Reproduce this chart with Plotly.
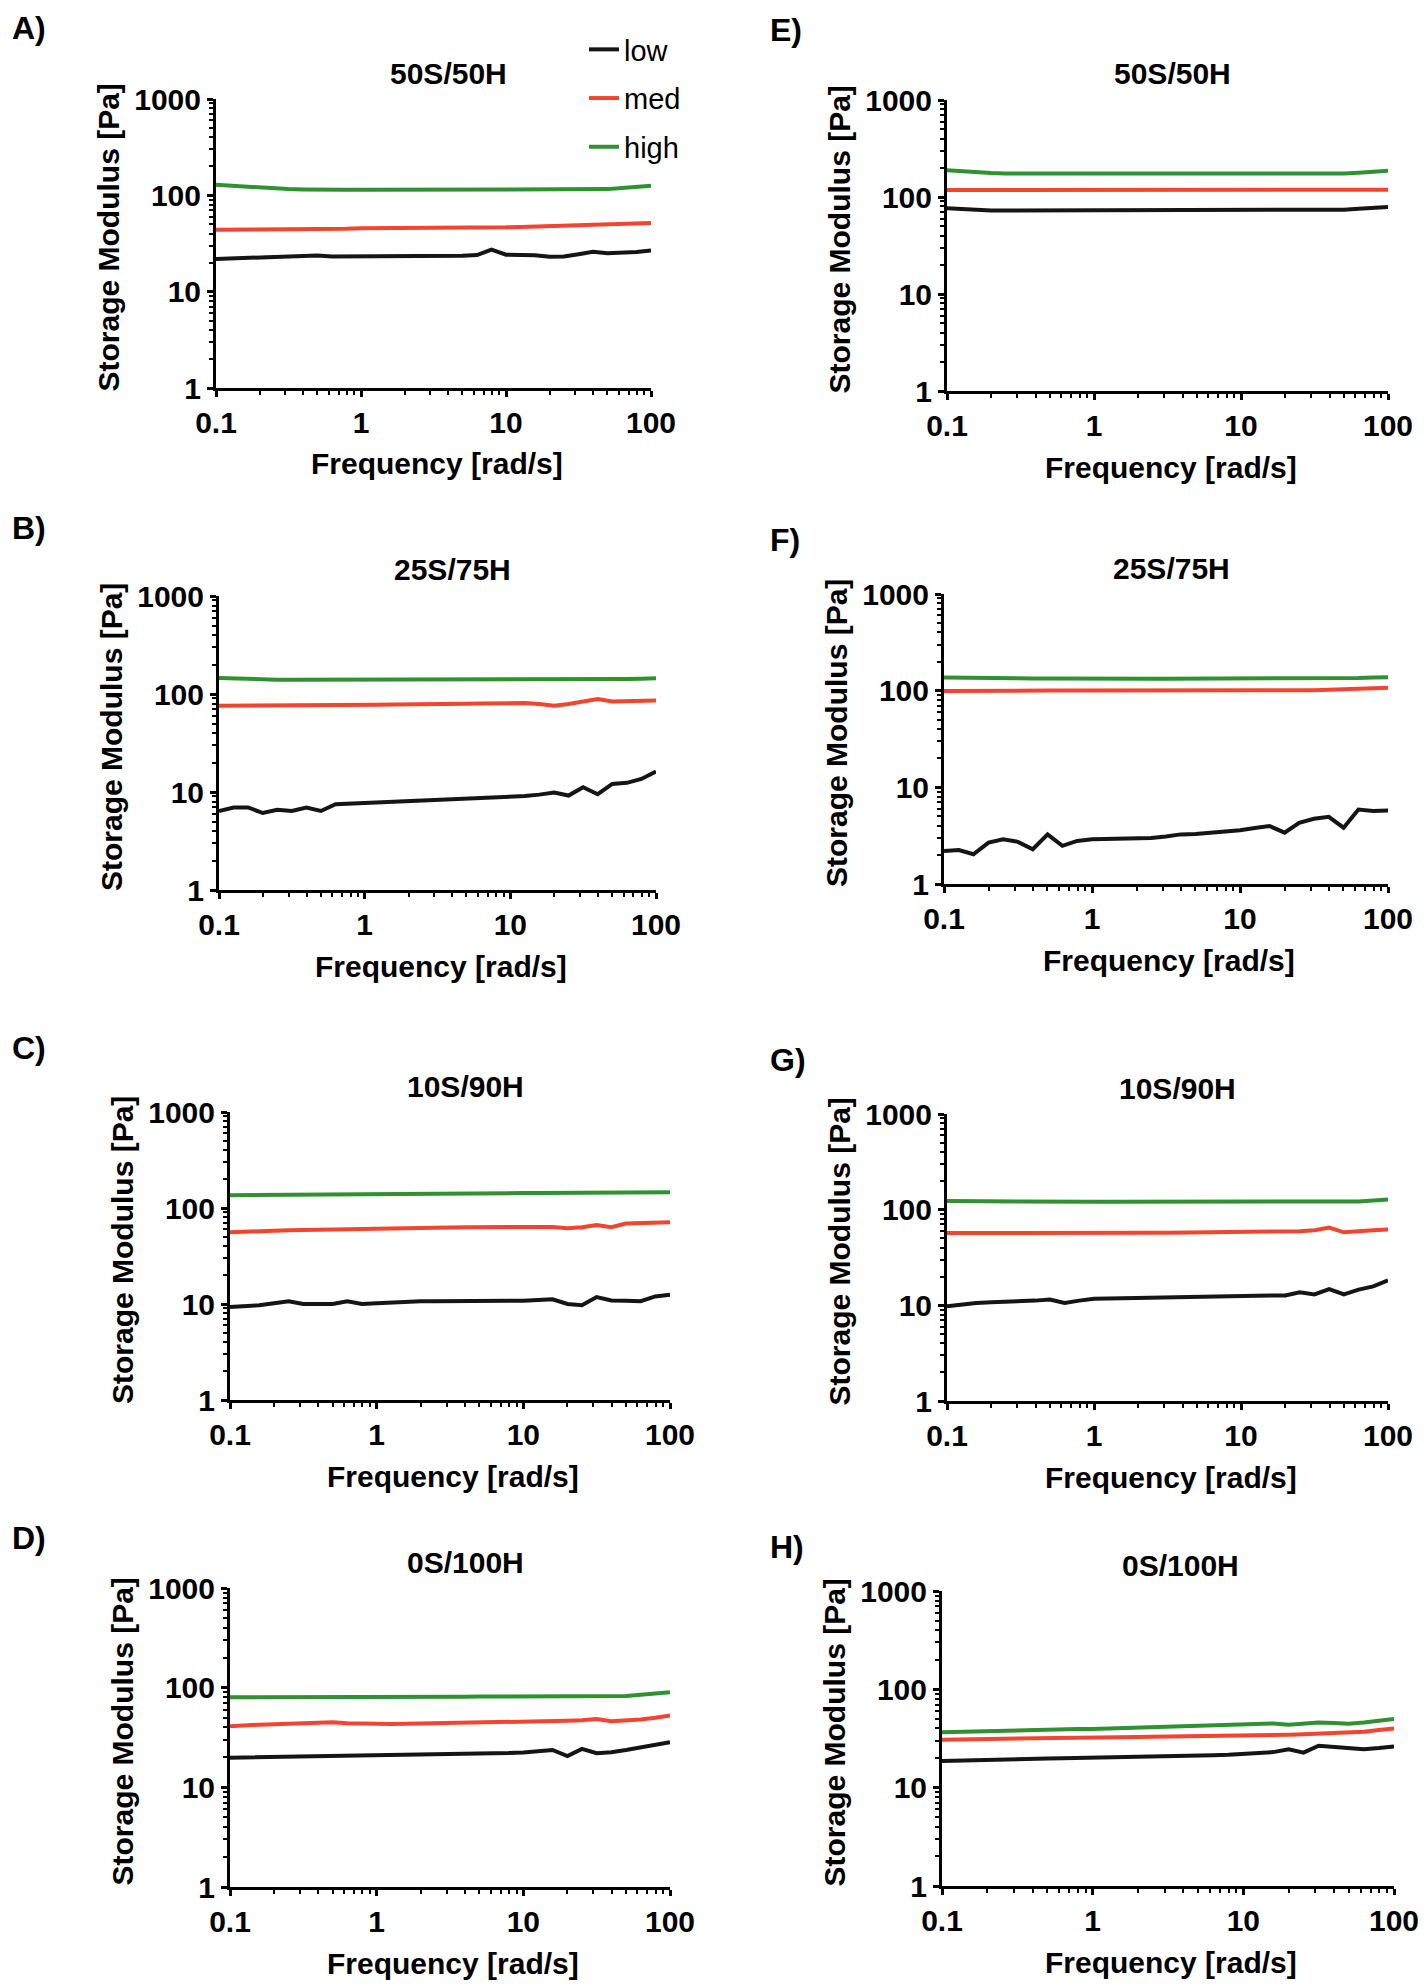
import plotly.graph_objects as go

W, H = 1427, 1986

# ---------------- data ----------------
freq = [0.1, 0.126, 0.158, 0.2, 0.251, 0.316, 0.398, 0.501, 0.631, 0.794,
        1.0, 1.26, 1.58, 2.0, 2.51, 3.16, 3.98, 5.01, 6.31, 7.94,
        10.0, 12.6, 15.8, 20.0, 25.1, 31.6, 39.8, 50.1, 63.1, 79.4, 100.0]

series_names = ["low", "med", "high"]
panel_letters = ["A)", "B)", "C)", "D)", "E)", "F)", "G)", "H)"]
panel_titles = ["50S/50H", "25S/75H", "10S/90H", "0S/100H",
                "50S/50H", "25S/75H", "10S/90H", "0S/100H"]

x_tickvals = [0.1, 1, 10, 100]
x_ticktext = ["0.1", "1", "10", "100"]
y_tickvals = [1, 10, 100, 1000]
y_ticktext = ["1", "10", "100", "1000"]

# Panel A (50S/50H, left)
A_low = [21.8, 22.1, 22.4, 22.7, 22.9, 23.1, 23.3, 23.8, 23.2, 23.2, 23.3, 23.3, 23.4, 23.4, 23.4, 23.5,
         23.5, 23.6, 24.0, 27.3, 24.2, 24.0, 23.9, 23.0, 23.2, 24.5, 25.9, 25.0, 25.2, 25.8, 26.8]
A_med = [44, 44, 44, 44, 44, 44, 44, 44, 44.5, 45, 45.5, 45.5, 46, 46, 46, 46, 46, 46, 46.5, 46.5,
         46.5, 47, 47.5, 48, 48.5, 49, 49.5, 50, 50.5, 51, 51.5]
A_high = [129, 126, 123, 120, 118, 116, 115, 114, 114, 114, 114, 114, 114, 114, 114, 114, 114, 114,
          114, 114, 114, 114, 114, 114, 114, 115, 115, 116, 119, 122, 126]

# Panel B (25S/75H, left)
B_low = [6.4, 6.95, 6.95, 6.1, 6.6, 6.4, 6.95, 6.4, 7.5, 7.6, 7.8, 7.85, 7.95, 8.1, 8.2, 8.3, 8.4,
         8.5, 8.6, 8.7, 8.8, 9.1, 9.4, 9.9, 9.2, 11.2, 9.5, 12.1, 12.4, 13.6, 16.2]
B_med = [76, 76, 76, 76, 76.5, 76.5, 76.5, 77, 77, 77, 77, 77.5, 78, 78, 78.5, 79, 79, 79.5, 80, 80.5,
         81, 81, 79, 76, 79, 83, 89, 84, 85, 85, 86]
B_high = [146, 144, 142, 141, 140, 140, 140, 139, 139, 139, 139, 139, 139, 139, 139, 139, 139, 139,
          139, 139, 139, 139, 139, 139, 139, 140, 140, 141, 142, 143, 145]

# Panel C (10S/90H, left)
C_low = [9.3, 9.4, 9.7, 10.2, 10.7, 10.0, 9.9, 10.0, 10.7, 10.0, 10.2, 10.4, 10.5, 10.7, 10.7, 10.7,
         10.8, 10.8, 10.8, 10.8, 10.8, 11.0, 11.2, 10.0, 9.7, 11.8, 10.9, 10.8, 10.7, 12.0, 12.5]
C_med = [56, 57, 57.5, 58, 58.5, 59, 59.5, 60, 60.5, 61, 61.5, 61.8, 62, 62.2, 62.5, 62.8, 63, 63.2,
         63.5, 63.8, 64, 64, 63.5, 61.5, 63, 66.5, 63, 69, 70, 70.5, 71]
C_high = [136, 136.5, 137, 137, 137.5, 138, 138, 138.5, 139, 139, 139.5, 140, 140, 140.5, 141, 141,
          141.5, 142, 142, 142.5, 143, 143, 143.5, 144, 144, 144.5, 145, 145, 145.5, 146, 146]

# Panel D (0S/100H, left)
D_low = [19.8, 19.9, 20.0, 20.1, 20.2, 20.3, 20.4, 20.6, 20.5, 20.6, 20.7, 20.8, 20.9, 21.0, 21.1,
         21.3, 21.5, 21.7, 21.9, 22.1, 22.4, 22.8, 23.7, 20.6, 24.3, 22.0, 22.5, 23.7, 25, 26.5, 28.4]
D_med = [41, 42, 42.5, 43, 43.5, 44, 44.5, 45, 44, 43.5, 43, 43.2, 43.4, 43.6, 43.8, 44, 44.2, 44.4,
         44.6, 44.8, 45, 45.5, 46, 46.5, 47, 48.5, 46, 46.5, 48, 50, 52.5]
D_high = [80, 80, 80, 80, 80, 80, 80, 79.5, 80, 80, 80.5, 80.5, 80.5, 81, 81, 81, 81, 81.5, 81.5,
          81.5, 82, 82, 82, 82.5, 82.5, 83, 83, 82.5, 85, 87, 90]

# Panel E (50S/50H, right)
E_low = [76.5, 75, 73.5, 72.5, 72.5, 72.5, 72.5, 72.5, 72.5, 72.5, 73, 73, 73, 73, 73, 73, 73, 73,
         73, 73, 73, 73, 73.5, 73.5, 73.5, 73.5, 74, 74, 75.5, 77, 79]
E_med = [118, 118, 118, 118, 118, 118, 118, 118, 118, 118, 118, 118, 118, 118, 118, 118, 118, 118,
         118, 118, 118, 118, 118, 118, 118, 118, 118, 118.5, 119, 119, 119]
E_high = [189, 184, 180, 177, 175, 175, 175, 175, 175, 175, 175, 175, 175, 175, 175, 175, 175, 175,
          175, 175, 175, 175, 175, 174, 174, 173, 173, 175, 178, 182, 186]

# Panel F (25S/75H, right)
F_low = [2.2, 2.25, 2.03, 2.68, 2.9, 2.73, 2.29, 3.26, 2.48, 2.79, 2.9, 2.92, 2.94, 2.97, 3.0, 3.1,
         3.26, 3.3, 3.4, 3.5, 3.59, 3.8, 3.98, 3.4, 4.3, 4.73, 4.96, 3.82, 5.9, 5.7, 5.75]
F_med = [99, 99.5, 100, 100, 100.5, 100.5, 100.5, 100.5, 100.5, 100.5, 100.5, 100.5, 100.5, 100.5,
         100.5, 100.5, 100.5, 100.5, 100.5, 100.5, 100.5, 100, 99.5, 99, 100, 101, 102, 103, 104,
         105.5, 107]
F_high = [137, 136, 135, 134.5, 134, 134, 133.5, 133.5, 133, 133, 133, 133, 133, 133, 133, 133, 133,
          133, 133, 133, 133, 133, 133, 133, 133, 133, 133.5, 134, 135, 136.5, 138]

# Panel G (10S/90H, right)
G_low = [9.8, 10.3, 10.6, 10.8, 10.9, 11.0, 11.2, 11.5, 10.6, 11.2, 11.7, 11.8, 11.9, 12.0, 12.1,
         12.2, 12.3, 12.4, 12.5, 12.6, 12.7, 12.7, 12.7, 12.7, 13.7, 13.0, 14.8, 13.0, 14.6, 15.8, 18.2]
G_med = [57, 57, 56.8, 56.7, 56.5, 56.4, 56.3, 56.2, 56, 56.2, 56.5, 56.7, 56.9, 57.1, 57.3, 57.5,
         57.6, 57.8, 57.9, 58, 58, 58, 58, 58.5, 59.5, 61, 65, 58, 60, 61, 62]
G_high = [123, 122.5, 122, 121.5, 121, 121, 121, 121, 121, 121, 121, 121, 121, 121, 121, 121, 121,
          121, 121, 121, 121, 121, 121, 121, 121, 121, 121, 121, 122, 125, 128]

# Panel H (0S/100H, right)
H_low = [18.7, 18.9, 19.1, 19.3, 19.5, 19.6, 19.7, 19.8, 19.9, 20.0, 20.2, 20.3, 20.4, 20.5, 20.6,
         20.8, 21.0, 21.2, 21.4, 21.6, 21.9, 22.3, 23, 24.6, 22.7, 26.7, 25.8, 25, 24.6, 25.3, 26.3]
H_med = [30.8, 31, 31.2, 31.4, 31.6, 31.8, 32, 32.2, 32.3, 32.4, 32.5, 32.6, 32.7, 32.8, 32.9, 33,
         33.1, 33.3, 33.4, 33.6, 33.8, 34, 34.3, 34.6, 35, 35.3, 35.6, 36, 37, 38.5, 40]
H_high = [36.6, 37, 37.4, 37.8, 38.2, 38.6, 38.9, 39.2, 39.4, 39.5, 39.6, 40, 40.4, 40.8, 41.3, 41.8,
          42.3, 42.8, 43.4, 44, 44.6, 44.8, 45, 43.7, 45, 45.9, 45.5, 44.6, 46, 48, 50]

panel_data = [
    (A_low, A_med, A_high), (B_low, B_med, B_high), (C_low, C_med, C_high), (D_low, D_med, D_high),
    (E_low, E_med, E_high), (F_low, F_med, F_high), (G_low, G_med, G_high), (H_low, H_med, H_high),
]

# ---------------- layout (pixel rectangles of plot areas) ----------------
# (left, right, top, bottom) in pixels
rects = [
    (216, 651, 99, 388),
    (219, 656, 596, 890),
    (230, 670, 1112, 1400),
    (230, 670, 1588, 1887),
    (947, 1388, 100, 391),
    (944, 1388, 594, 884),
    (947, 1388, 1114, 1401),
    (942, 1394, 1591, 1886),
]
letter_pos = [(10, 28), (10, 528), (10, 1048), (10, 1538),
              (768, 30), (768, 540), (768, 1060), (768, 1547)]
title_dx = [15, 15, 15, 15, 5, 5, 10, 12]

colors = {"low": "#151515", "med": "#f2452f", "high": "#2f912f"}

FONT = "Liberation Sans"

fig = go.Figure()
annotations = []

for i in range(8):
    ax = "" if i == 0 else str(i + 1)
    xa, ya = "x" + ax, "y" + ax
    l, r, t, b = rects[i]
    for name, vals in zip(series_names, panel_data[i]):
        fig.add_trace(go.Scatter(
            x=freq, y=vals, mode="lines", name=name,
            line=dict(color=colors[name], width=4),
            xaxis=xa, yaxis=ya, showlegend=(i == 0), legendgroup=name,
        ))
    common = dict(showline=True, linewidth=3, linecolor="black", showgrid=False,
                  zeroline=False, ticks="outside", ticklen=6, tickwidth=2.5, tickcolor="black",
                  automargin=False,
                  tickfont=dict(family=FONT, size=30, color="black", weight="bold"))
    fig.update_layout(**{
        "xaxis" + ax: dict(type="log", range=[-1, 2], domain=[l / W, r / W], anchor=ya,
                           tickvals=x_tickvals, ticktext=x_ticktext,
                           minor=dict(ticks="outside", ticklen=4, tickwidth=2, tickcolor="black",
                                      tickvals=[0.2, 0.3, 0.4, 0.5, 0.6, 0.7, 0.8, 0.9,
                                                2, 3, 4, 5, 6, 7, 8, 9,
                                                20, 30, 40, 50, 60, 70, 80, 90]),
                           **common),
        "yaxis" + ax: dict(type="log", range=[0, 3], domain=[1 - b / H, 1 - t / H], anchor=xa,
                           tickvals=y_tickvals, ticktext=y_ticktext,
                           minor=dict(ticks="outside", ticklen=4, tickwidth=2, tickcolor="black",
                                      tickvals=[2, 3, 4, 5, 6, 7, 8, 9,
                                                20, 30, 40, 50, 60, 70, 80, 90,
                                                200, 300, 400, 500, 600, 700, 800, 900]),
                           **common),
    })
    cx = (l + r) / 2
    cy = (t + b) / 2
    # panel letter
    annotations.append(dict(x=letter_pos[i][0] / W, y=1 - letter_pos[i][1] / H, xref="paper", yref="paper",
                            text=panel_letters[i], showarrow=False, xanchor="left", yanchor="middle",
                            font=dict(family=FONT, size=32, color="black", weight="bold")))
    # panel title
    annotations.append(dict(x=(cx + title_dx[i]) / W, y=1 - (t - 26) / H, xref="paper", yref="paper",
                            text=panel_titles[i], showarrow=False, xanchor="center", yanchor="middle",
                            font=dict(family=FONT, size=30, color="black", weight="bold")))
    # x title
    annotations.append(dict(x=(cx + 3) / W, y=1 - (b + 76) / H, xref="paper", yref="paper",
                            text="Frequency [rad/s]", showarrow=False, xanchor="center", yanchor="middle",
                            font=dict(family=FONT, size=30, color="black", weight="bold")))
    # y title
    annotations.append(dict(x=(l - 108) / W, y=1 - (cy - 6) / H, xref="paper", yref="paper",
                            text="Storage Modulus [Pa]", showarrow=False, textangle=-90,
                            xanchor="center", yanchor="middle",
                            font=dict(family=FONT, size=30, color="black", weight="bold")))

fig.update_layout(
    width=W, height=H,
    margin=dict(l=0, r=0, t=0, b=0, autoexpand=False),
    paper_bgcolor="white", plot_bgcolor="white",
    annotations=annotations,
    showlegend=True,
    legend=dict(x=584 / W, y=1 - 24 / H, xanchor="left", yanchor="top",
                font=dict(family=FONT, size=29, color="black"),
                bgcolor="rgba(0,0,0,0)", tracegroupgap=8, itemwidth=30),
)

fig.write_html("out.html",
               config={"displayModeBar": False},
               post_script="document.body.style.margin='0';document.body.style.overflow='hidden';")
